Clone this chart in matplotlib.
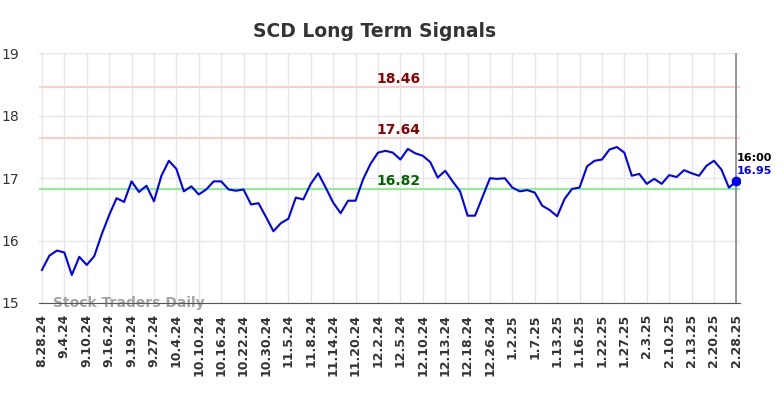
import matplotlib
matplotlib.use("Agg")
import matplotlib.pyplot as plt
import numpy as np

title = "SCD Long Term Signals"
tick_labels = ["8.28.24", "9.4.24", "9.10.24", "9.16.24", "9.19.24", "9.27.24", "10.4.24",
               "10.10.24", "10.16.24", "10.22.24", "10.30.24", "11.5.24", "11.8.24", "11.14.24",
               "11.20.24", "12.2.24", "12.5.24", "12.10.24", "12.13.24", "12.18.24", "12.26.24",
               "1.2.25", "1.7.25", "1.13.25", "1.16.25", "1.22.25", "1.27.25", "2.3.25",
               "2.10.25", "2.13.25", "2.20.25", "2.28.25"]
prices = [15.53, 15.76, 15.84, 15.81, 15.45, 15.74, 15.61, 15.75, 16.10, 16.41,
          16.68, 16.62, 16.95, 16.78, 16.88, 16.63, 17.04, 17.28, 17.15, 16.79,
          16.87, 16.74, 16.82, 16.95, 16.95, 16.82, 16.80, 16.82, 16.58, 16.60,
          16.38, 16.15, 16.28, 16.35, 16.69, 16.66, 16.91, 17.08, 16.85, 16.61,
          16.44, 16.64, 16.64, 16.98, 17.23, 17.41, 17.44, 17.41, 17.30, 17.47,
          17.40, 17.36, 17.26, 17.01, 17.12, 16.95, 16.79, 16.40, 16.40, 16.70,
          17.00, 16.99, 17.00, 16.85, 16.79, 16.81, 16.77, 16.56, 16.49, 16.39,
          16.67, 16.83, 16.85, 17.19, 17.28, 17.30, 17.46, 17.50, 17.41, 17.04,
          17.07, 16.91, 16.99, 16.91, 17.05, 17.02, 17.13, 17.08, 17.04, 17.20,
          17.28, 17.14, 16.85, 16.95]
resistance_levels = [18.46, 17.64]
support_levels = [16.82]
last_time = "16:00"
last_price = 16.95
tick_step = 3

fig = plt.figure(figsize=(7.84, 3.98), dpi=100)
ax = fig.add_axes([0.0497, 0.2387, 0.8943, 0.6269])

x = np.arange(len(prices))
ax.plot(x, prices, color="#0000ff", linewidth=1.5, zorder=4)

label_x = 47.8
for lv in resistance_levels:
    ax.axhline(lv, color="#ffcccc", linewidth=1.5, zorder=2)
    ax.text(label_x, lv + 0.02, f"{lv:.2f}", color="#8b0000", fontsize=10, fontweight="bold",
            ha="center", va="bottom", zorder=5)
for lv in support_levels:
    ax.axhline(lv, color="#90ee90", linewidth=1.5, zorder=2)
    ax.text(label_x, lv + 0.02, f"{lv:.2f}", color="#006400", fontsize=10, fontweight="bold",
            ha="center", va="bottom", zorder=5)

ax.axvline(x[-1], color="#888888", linewidth=1.2, zorder=3)
ax.plot([x[-1]], [last_price], "o", color="#0000ff", markersize=6, zorder=6)
ax.text(x[-1] + 0.05, last_price + 0.38, last_time, color="black", fontsize=8,
        fontweight="bold", ha="left", va="center", zorder=6, clip_on=False)
ax.text(x[-1] + 0.05, last_price + 0.17, f"{last_price:.2f}", color="#0000ff", fontsize=8,
        fontweight="bold", ha="left", va="center", zorder=6, clip_on=False)

ax.text(1.5, 15.0, "Stock Traders Daily", color="#999999", fontsize=10, fontweight="bold",
        ha="left", va="center", alpha=0.9, zorder=1)

ax.set_xlim(-0.4, len(prices) - 1 + 0.5)
ax.set_ylim(15, 19)
ax.set_yticks([15, 16, 17, 18, 19])
ax.set_xticks(x[::tick_step])
ax.set_xticklabels(tick_labels, rotation=90, fontsize=9, fontweight="bold", color="#333333")
ax.tick_params(axis="y", labelsize=10, colors="#333333", length=0, pad=14)
ax.tick_params(axis="x", length=0, pad=8)
ax.grid(True, color="#e6e6e6", linewidth=1, zorder=0)
ax.set_axisbelow(True)
for s in ["top", "right", "left"]:
    ax.spines[s].set_visible(False)
ax.spines["bottom"].set_color("#555555")

fig.suptitle(title, x=0.478, y=0.945, fontsize=13.5, fontweight="bold", color="#333333")
fig.savefig("out.png", dpi=100)
